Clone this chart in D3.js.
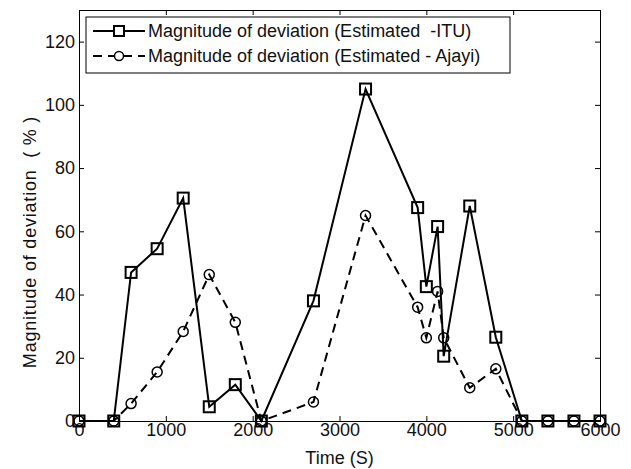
<!DOCTYPE html>
<html>
<head>
<meta charset="utf-8">
<script src="https://cdn.jsdelivr.net/npm/d3@7"></script>
<style>
  body { margin: 0; background: #fff; }
  text { font-family: "Liberation Sans", Arial, sans-serif; fill: #111; white-space: pre; }
</style>
</head>
<body>
<div id="chart"></div>
<script>
// time samples (S)
const times = [0, 400, 600, 900, 1200, 1500, 1800, 2100, 2700, 3300, 3900, 4000, 4130, 4200, 4500, 4800, 5100, 5400, 5700, 6000];
// deviation Estimated - ITU (%)
const ituDev = [0, 0, 47, 54.5, 70.5, 4.5, 11.5, 0, 38, 105, 67.5, 42.5, 61.5, 20.5, 68, 26.5, 0, 0, 0, 0];
// deviation Estimated - Ajayi (%)
const ajayiDev = [0, 0, 5.5, 15.5, 28.3, 46.3, 31.2, 0, 6, 65, 36, 26.3, 41, 26.3, 10.5, 16.5, 0, 0, 0, 0];
const xTicks = [0, 1000, 2000, 3000, 4000, 5000, 6000];
const yTicks = [0, 20, 40, 60, 80, 100, 120];
const legendLabels = ["Magnitude of deviation (Estimated  -ITU)", "Magnitude of deviation (Estimated - Ajayi)"];

const width = 631, height = 469;
const margin = {top: 10, right: 31, bottom: 48, left: 79};
const w = width - margin.left - margin.right;
const h = height - margin.top - margin.bottom;

const svg = d3.select("#chart").append("svg")
  .attr("width", width)
  .attr("height", height);

const g = svg.append("g")
  .attr("transform", "translate(" + margin.left + "," + margin.top + ")");

const x = d3.scaleLinear().domain([0, 6000]).range([0, w]);
const y = d3.scaleLinear().domain([0, 130]).range([h, 0]);

// axes, matlab style: ticks inside, on all four sides
const fs = "18px";
g.append("g")
  .attr("transform", "translate(0," + h + ")")
  .call(d3.axisBottom(x).tickValues(xTicks).tickSize(-5).tickPadding(2).tickFormat(d3.format("d")))
  .call(a => a.selectAll("text").style("font-size", fs).attr("dy", "0.72em"));
g.append("g")
  .call(d3.axisLeft(y).tickValues(yTicks).tickSize(-5).tickPadding(4))
  .call(a => a.selectAll("text").style("font-size", fs));
g.append("g")
  .call(d3.axisTop(x).tickValues(xTicks).tickSize(-5).tickFormat(""));
g.append("g")
  .attr("transform", "translate(" + w + ",0)")
  .call(d3.axisRight(y).tickValues(yTicks).tickSize(-5).tickFormat(""));
g.selectAll(".domain").attr("stroke", "#000").attr("stroke-width", 1);
g.selectAll(".tick line").attr("stroke", "#000");

const line = d3.line()
  .x(d => x(d[0]))
  .y(d => y(d[1]));

const ituPts = times.map((t, i) => [t, ituDev[i]]);
const ajayiPts = times.map((t, i) => [t, ajayiDev[i]]);

g.append("path")
  .datum(ajayiPts)
  .attr("d", line)
  .attr("fill", "none")
  .attr("stroke", "#000")
  .attr("stroke-width", 2)
  .attr("stroke-dasharray", "9,6");

g.append("path")
  .datum(ituPts)
  .attr("d", line)
  .attr("fill", "none")
  .attr("stroke", "#000")
  .attr("stroke-width", 2);

g.selectAll(".circ")
  .data(ajayiPts)
  .enter()
  .append("circle")
  .attr("cx", d => x(d[0]))
  .attr("cy", d => y(d[1]))
  .attr("r", 5)
  .attr("fill", "none")
  .attr("stroke", "#000")
  .attr("stroke-width", 1.5);

g.selectAll(".sq")
  .data(ituPts)
  .enter()
  .append("rect")
  .attr("x", d => x(d[0]) - 5.5)
  .attr("y", d => y(d[1]) - 5.5)
  .attr("width", 11)
  .attr("height", 11)
  .attr("fill", "none")
  .attr("stroke", "#000")
  .attr("stroke-width", 2);

// axis titles
svg.append("text")
  .attr("x", margin.left + w / 2)
  .attr("y", 464)
  .attr("text-anchor", "middle")
  .style("font-size", fs)
  .text("Time (S)");
svg.append("text")
  .attr("transform", "translate(36,242) rotate(-90)")
  .attr("text-anchor", "middle")
  .style("font-size", fs)
  .style("letter-spacing", "0.8px")
  .text("Magnitude of deviation  ( % )");

// legend
const leg = svg.append("g").attr("transform", "translate(86,17)");
leg.append("rect")
  .attr("width", 424)
  .attr("height", 56)
  .attr("fill", "#fff")
  .attr("stroke", "#000");
const rows = [14, 39];
legendLabels.forEach((lab, i) => {
  const ry = rows[i];
  leg.append("line")
    .attr("x1", 7).attr("x2", 59)
    .attr("y1", ry).attr("y2", ry)
    .attr("stroke", "#000")
    .attr("stroke-width", 2)
    .attr("stroke-dasharray", i === 0 ? null : "9,6");
  if (i === 0) {
    leg.append("rect").attr("x", 28).attr("y", ry - 5).attr("width", 10).attr("height", 10)
      .attr("fill", "#fff").attr("stroke", "#000").attr("stroke-width", 2);
  } else {
    leg.append("circle").attr("cx", 33).attr("cy", ry).attr("r", 4.5)
      .attr("fill", "#fff").attr("stroke", "#000").attr("stroke-width", 1.5);
  }
  leg.append("text")
    .attr("x", 62)
    .attr("y", ry)
    .attr("dy", "0.35em")
    .style("font-size", fs)
    .text(lab);
});
</script>
</body>
</html>
